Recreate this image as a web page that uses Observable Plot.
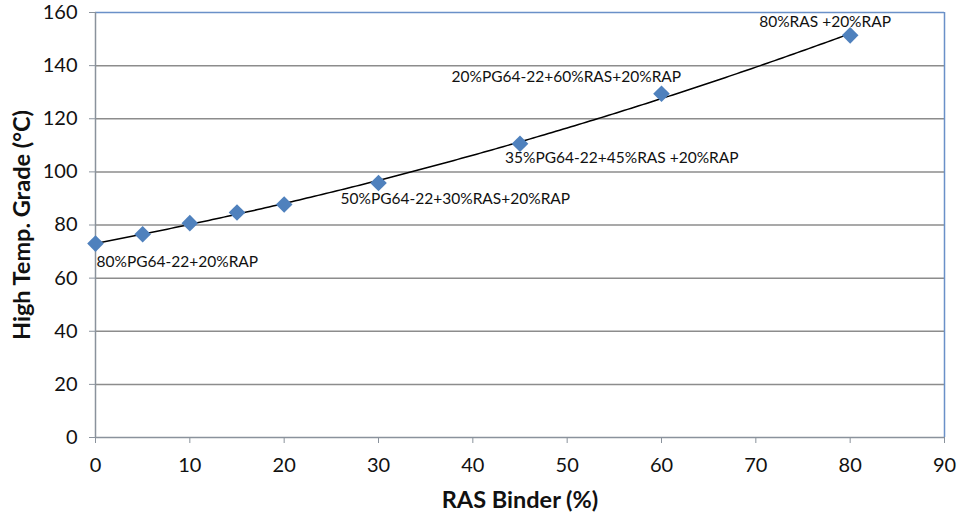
<!DOCTYPE html>
<html>
<head>
<meta charset="utf-8">
<script src="https://cdn.jsdelivr.net/npm/d3@7"></script>
<script src="https://cdn.jsdelivr.net/npm/@observablehq/plot@0.6"></script>
<style>
  html, body { margin: 0; padding: 0; background: #fff; }
  svg { font-family: Lato, "Open Sans", sans-serif; }
</style>
</head>
<body>
<div id="chart"></div>
<script>
// ---- data ----
const rasBinder = [0, 5, 10, 15, 20, 30, 45, 60, 80];
const highTempGrade = [73.0, 76.5, 80.7, 84.7, 87.7, 95.8, 110.6, 129.4, 151.4];
const labelTexts = ["80%PG64-22+20%RAP", null, null, null, null,
  "50%PG64-22+30%RAS+20%RAP", "35%PG64-22+45%RAS +20%RAP",
  "20%PG64-22+60%RAS+20%RAP", "80%RAS +20%RAP"];
const xTicks = [0, 10, 20, 30, 40, 50, 60, 70, 80, 90];
const yTicks = [0, 20, 40, 60, 80, 100, 120, 140, 160];

const points = rasBinder.map((x, i) => ({x, y: highTempGrade[i], label: labelTexts[i]}));

// 2nd-order polynomial least-squares trendline computed from the data
function polyFit2(xs, ys) {
  const S = k => d3.sum(xs, x => x ** k);
  const T = k => d3.sum(xs, (x, i) => x ** k * ys[i]);
  const A = [[S(0), S(1), S(2)], [S(1), S(2), S(3)], [S(2), S(3), S(4)]];
  const b = [T(0), T(1), T(2)];
  for (let i = 0; i < 3; i++) {
    for (let j = i + 1; j < 3; j++) {
      const f = A[j][i] / A[i][i];
      for (let k = i; k < 3; k++) A[j][k] -= f * A[i][k];
      b[j] -= f * b[i];
    }
  }
  const c = [0, 0, 0];
  for (let i = 2; i >= 0; i--) {
    let s = b[i];
    for (let k = i + 1; k < 3; k++) s -= A[i][k] * c[k];
    c[i] = s / A[i][i];
  }
  return x => c[0] + c[1] * x + c[2] * x * x;
}
const fit = polyFit2(rasBinder, highTempGrade);
const xMin = d3.min(rasBinder), xMax = d3.max(rasBinder);
const trend = d3.range(0, 201).map(i => {
  const x = xMin + (xMax - xMin) * i / 200;
  return {x, y: fit(x)};
});

// label offsets (style/config)
const labelOffsets = {
  "80%PG64-22+20%RAP": [1, 18],
  "50%PG64-22+30%RAS+20%RAP": [-38, 16],
  "35%PG64-22+45%RAS +20%RAP": [-15, 14],
  "20%PG64-22+60%RAS+20%RAP": [-210, -17],
  "80%RAS +20%RAP": [-91, -13]
};

const gridColor = "#8c8c8c";
const axisColor = "#8a929c";
const borderColor = "#6a90c8";
const markerColor = "#4f81bd";

const labelMarks = points.filter(d => d.label).map(d =>
  Plot.text([d], {
    x: "x", y: "y", text: "label", textAnchor: "start",
    dx: labelOffsets[d.label][0], dy: labelOffsets[d.label][1],
    fontSize: 15.5, fill: "#111"
  })
);

const chart = Plot.plot({
  width: 959,
  height: 518,
  marginLeft: 95,
  marginRight: 15,
  marginTop: 12,
  marginBottom: 81,
  style: {fontFamily: "Lato, 'Open Sans', sans-serif", background: "#fff"},
  x: {domain: [0, 90]},
  y: {domain: [0, 160]},
  marks: [
    Plot.gridY(yTicks.filter(t => t > 0 && t < 160), {stroke: gridColor, strokeOpacity: 1, strokeWidth: 1.5}),
    Plot.ruleY([160], {stroke: borderColor, strokeWidth: 1.5}),
    Plot.ruleX([90], {stroke: borderColor, strokeWidth: 1.5}),
    Plot.ruleX([0], {stroke: axisColor, strokeWidth: 1.5}),
    Plot.ruleY([0], {stroke: axisColor, strokeWidth: 1.5}),
    Plot.axisX({ticks: xTicks, tickSize: 6, tickPadding: 14, stroke: axisColor, fontSize: 20, fill: "#111", label: null}),
    Plot.axisY({ticks: yTicks, tickSize: 6, tickPadding: 12, stroke: axisColor, fontSize: 20, fill: "#111", label: null}),
    Plot.line(trend, {x: "x", y: "y", stroke: "#000", strokeWidth: 1.5}),
    Plot.dot(points, {x: "x", y: "y", symbol: "diamond2", r: 7.5, fill: markerColor, stroke: "none"}),
    ...labelMarks,
    Plot.text(["High Temp. Grade (°C)"], {frameAnchor: "left", textAnchor: "middle", lineAnchor: "middle", rotate: -90, dx: -73, fontSize: 23.5, fontWeight: "bold", fill: "#111"}),
    Plot.text(["RAS Binder (%)"], {frameAnchor: "bottom", textAnchor: "middle", lineAnchor: "middle", dy: 63, fontSize: 23.5, fontWeight: "bold", fill: "#111"})
  ]
});
document.getElementById("chart").appendChild(chart);
</script>
</body>
</html>
